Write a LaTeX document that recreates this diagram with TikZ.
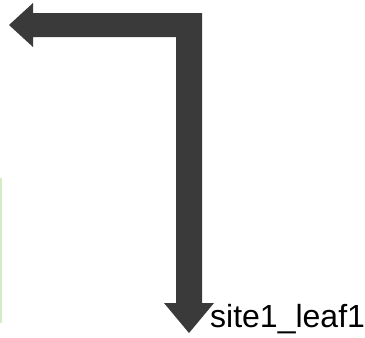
\documentclass[tikz,border=0pt]{standalone}
\usepackage{fontspec}
\setmainfont{Liberation Sans}
\definecolor{arrowgray}{HTML}{3A3A3A}
\definecolor{faintgreen}{HTML}{D4ECC4}
\begin{document}
\begin{tikzpicture}[x=1pt,y=-1pt,
  bigarrow/.style={fill=arrowgray,draw=none},
  lbl/.style={inner sep=0pt,anchor=base west,font=\fontsize{32}{32}\selectfont}]
\useasboundingbox (0,0) rectangle (365,338);
\fill[faintgreen] (0,178) rectangle (2,323);
\fill[bigarrow] (9,25) -- (33,3) -- (33,13) -- (202,13) -- (202,303) -- (214,303)
  -- (189,333) -- (164,303) -- (176,303) -- (176,37) -- (33,37) -- (33,47) -- cycle;
\node[lbl] (label) at (210,327) {site1\_leaf1};
\end{tikzpicture}
\end{document}
